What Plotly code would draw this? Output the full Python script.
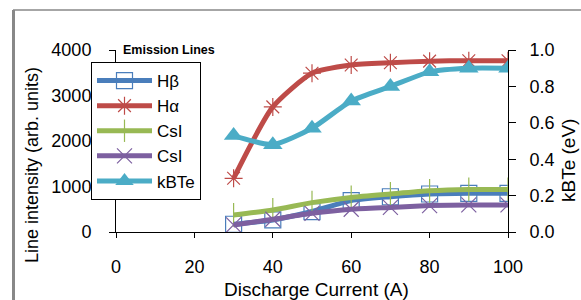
import plotly.graph_objects as go

current = [30, 40, 50, 60, 70, 80, 90, 100]
hbeta = [170, 265, 450, 690, 775, 835, 850, 850]
halpha = [1180, 2750, 3490, 3670, 3720, 3755, 3765, 3765]
csi_green = [375, 485, 645, 760, 835, 905, 935, 935]
csi_purple = [155, 280, 410, 500, 540, 580, 595, 595]
kbte = [0.53, 0.48, 0.57, 0.72, 0.80, 0.88, 0.90, 0.90]

left_ticks = [0, 1000, 2000, 3000, 4000]
right_ticks = [0.0, 0.2, 0.4, 0.6, 0.8, 1.0]
x_ticks = [0, 20, 40, 60, 80, 100]

FONT = "Liberation Sans, Arial, sans-serif"

fig = go.Figure()

series = [
    ("Hβ", hbeta, "#4A7EBB", "square-open", 16, "y"),
    ("Hα", halpha, "#BE4B48", "asterisk-open", 15, "y"),
    ("CsI", csi_green, "#98B954", "line-ns-open", 17, "y"),
    ("CsI", csi_purple, "#7D60A0", "x-thin-open", 15, "y"),
]
for name, vals, col, sym, sz, ax in series:
    fig.add_trace(go.Scatter(
        x=current, y=vals, name=name, yaxis=ax, mode="lines+markers",
        line=dict(color=col, width=5, shape="spline", smoothing=0.6),
        marker=dict(symbol=sym, size=sz, color=col, line=dict(width=1.2, color=col)),
    ))

fig.add_trace(go.Scatter(
    x=current, y=kbte, name="kBTe", yaxis="y2", mode="lines+markers",
    line=dict(color="#4BACC6", width=5, shape="spline", smoothing=0.6),
    marker=dict(symbol="triangle-up", size=17, color="#4BACC6"),
))

L, R, T, B = 116, 73, 50, 68
W, H = 581, 300
pw, ph = W - L - R, H - T - B

def px(xp):
    return (xp - L) / pw

def py(yp):
    return (H - B - yp) / ph

fig.update_layout(
    width=W, height=H,
    margin=dict(l=L, r=R, t=T, b=B, autoexpand=False),
    paper_bgcolor="white", plot_bgcolor="white",
    font=dict(family=FONT, size=17, color="black"),
    showlegend=True,
    legend=dict(
        x=px(91), y=py(62), xanchor="left", yanchor="top",
        bgcolor="white", bordercolor="black", borderwidth=1,
        font=dict(size=17, family=FONT),
        tracegroupgap=0, itemwidth=55,
    ),
    xaxis=dict(
        range=[0, 100], tickvals=x_ticks, showgrid=False, zeroline=False,
        showline=True, linecolor="black", linewidth=1,
        ticks="outside", ticklen=5, tickcolor="black",
        tickfont=dict(size=18), ticklabelstandoff=13, tickangle=0,
    ),
    yaxis=dict(
        range=[0, 4000], tickvals=left_ticks, showgrid=False, zeroline=False,
        showline=True, linecolor="black", linewidth=1,
        ticks="outside", ticklen=6, tickcolor="black",
        tickfont=dict(size=18), ticklabelstandoff=14,
    ),
    yaxis2=dict(
        range=[0, 1.0], tickvals=right_ticks, tickformat=".1f",
        overlaying="y", side="right", anchor="x",
        showgrid=False, zeroline=False,
        showline=True, linecolor="black", linewidth=1,
        ticks="outside", ticklen=7, tickcolor="black",
        tickfont=dict(size=18), ticklabelstandoff=10,
    ),
    annotations=[
        dict(text="Discharge Current (A)", x=px(316), y=py(289), xref="paper", yref="paper",
             showarrow=False, font=dict(size=19), xanchor="center", yanchor="middle"),
        dict(text="Line intensity (arb. units)", x=px(32), y=py(165), xref="paper", yref="paper",
             showarrow=False, font=dict(size=18), textangle=-90, xanchor="center", yanchor="middle"),
        dict(text="kBTe (eV)", x=px(568), y=py(161), xref="paper", yref="paper",
             showarrow=False, font=dict(size=19), textangle=-90, xanchor="center", yanchor="middle"),
        dict(text="<b>Emission Lines</b>", x=px(121), y=py(50), xref="paper", yref="paper",
             showarrow=False, font=dict(size=12.5), xanchor="left", yanchor="middle"),
    ],
    shapes=[
        dict(type="line", xref="paper", yref="paper", x0=px(13), x1=px(581), y0=py(10), y1=py(10),
             line=dict(color="#888888", width=1.5)),
        dict(type="line", xref="paper", yref="paper", x0=px(13.5), x1=px(13.5), y0=py(10), y1=py(300),
             line=dict(color="#888888", width=3)),
    ],
)

fig.write_html(
    "out.html",
    config={"displayModeBar": False},
    post_script="document.body.style.margin='0px';document.body.style.overflow='hidden';",
)
